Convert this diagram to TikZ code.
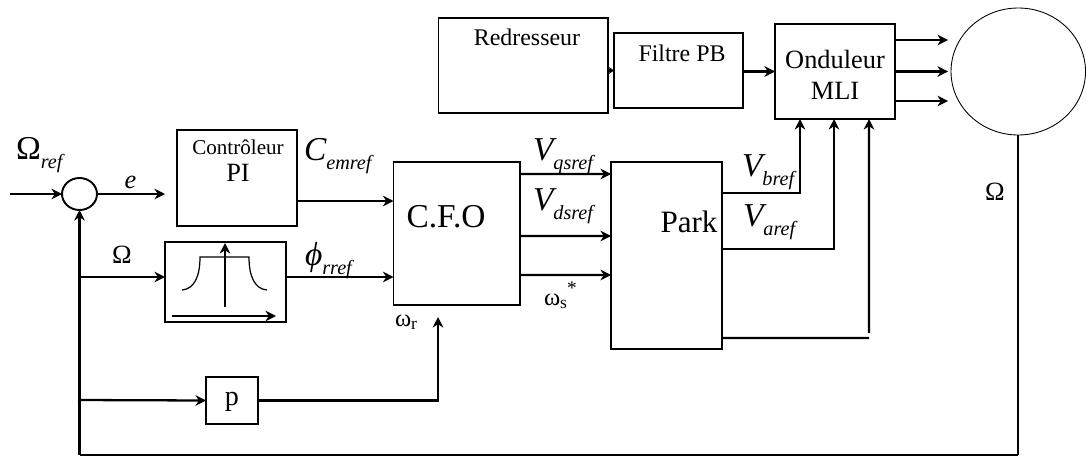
\documentclass[tikz,border=0pt]{standalone}
\usepackage{fontspec}
\setmainfont{Liberation Serif}
\usetikzlibrary{shapes.geometric,arrows.meta}
\newcommand{\fsz}[1]{\fontsize{#1}{#1}\selectfont}
\newcommand{\sublab}[2]{{\fsz{19}#1}\raisebox{-5.5pt}{\fsz{11.5}\itshape #2}}
\tikzset{
  blockbox/.style={draw,line width=1.1pt,outer sep=0pt,inner sep=0pt},
  sumcircle/.style={draw,ellipse,line width=1.1pt,outer sep=0pt,inner sep=0pt},
  sig/.style={-{Stealth[length=6pt,width=6pt]},line width=1.3pt},
  txt/.style={anchor=base,inner sep=0pt,outer sep=0pt},
}
\begin{document}
\begin{tikzpicture}
\useasboundingbox (0,0) rectangle (21.72,9.14);
% blocks
\node[blockbox,minimum width=3.39cm,minimum height=1.9cm] (redr) at (10.465,7.83) {};
\node[blockbox,minimum width=2.58cm,minimum height=1.5cm] (filt) at (13.57,7.73) {};
\node[blockbox,minimum width=2.4cm,minimum height=1.9cm] (ond) at (16.7,7.71) {};
\node[draw,ellipse,line width=0.5pt,outer sep=0pt,inner sep=0pt,minimum width=2.69cm,minimum height=2.54cm] (motor) at (20.365,7.71) {};
\node[blockbox,minimum width=2.53cm,minimum height=2.86cm] (cfo) at (9.135,4.47) {};
\node[blockbox,minimum width=2.22cm,minimum height=3.74cm] (park) at (13.33,4.03) {};
\node[blockbox,minimum width=2.4cm,minimum height=1.92cm] (ctrl) at (4.74,5.58) {};
\node[blockbox,minimum width=2.42cm,minimum height=1.6cm] (flux) at (4.51,3.5) {};
\node[blockbox,minimum width=1.04cm,minimum height=0.94cm] (pgain) at (4.64,1.13) {};
\node[sumcircle,minimum width=0.7cm,minimum height=0.64cm] (sum) at (1.59,5.26) {};
% free ends
\coordinate (inref) at (0.2,5.26);
\coordinate (eend) at (3.3,5.26);
\coordinate (fbr) at (motor.south |- 0,0.04);
\coordinate (fbl) at (sum.south |- 0,0.04);
\coordinate (brflux) at (sum.south |- 0,3.6);
\coordinate (brp) at (1.56,1.14);
\coordinate (wrin) at (8.76,2.8);
\coordinate (wrcorner) at (wrin |- pgain.east);
\coordinate (parkend) at (17.38,2.38);
\coordinate (ondin) at (17.38,2.48);
% top chain
\draw[-{Stealth[length=3pt,width=4pt]},line width=1.3pt] (redr.east |- filt.center) -- (filt.west);
\draw[sig] (filt.east |- ond.center) -- (ond.west);
\foreach \dy/\nm in {0.63/a,0/b,-0.59/c}{
  \coordinate (ph\nm) at ([xshift=1.06cm,yshift=\dy cm]ond.east);
  \draw[sig] ([yshift=\dy cm]ond.east) -- (ph\nm);
}
% speed loop
\draw[sig] (inref) -- (sum.west);
\draw[sig] (sum.east) -- (eend);
\draw[line width=0.9pt] (motor.south) -- (fbr);
\draw[line width=0.9pt] (fbr) -- (fbl);
\draw[sig] (fbl) -- (sum.south);
\draw[sig] (brflux) -- ([yshift=0.1cm]flux.west);
\draw[sig] (brp) -- (pgain.west);
\draw[sig] (pgain.east) -- (wrcorner) -- (wrin);
% into and out of the C.F.O
\draw[sig] ([yshift=-0.46cm]ctrl.east) -- ([yshift=0.65cm]cfo.west);
\draw[sig] ([yshift=0.1cm]flux.east) -- ([yshift=-0.87cm]cfo.west);
\draw[sig] ([yshift=1.19cm]cfo.east) -- ([yshift=1.63cm]park.west);
\draw[sig] ([yshift=-0.05cm]cfo.east) -- ([yshift=0.39cm]park.west);
\draw[sig] ([yshift=-0.83cm]cfo.east) -- ([yshift=-0.39cm]park.west);
% park to inverter
\draw[sig] ([yshift=1.25cm]park.east) -| ([xshift=-0.7cm]ond.south);
\draw[sig] ([yshift=0.13cm]park.east) -| ([xshift=-0.02cm]ond.south);
\draw[line width=1.2pt] ([yshift=-1.65cm]park.east) -- (parkend);
\draw[sig] (ondin) -- ([xshift=0.68cm]ond.south);
% limiter icon
\coordinate (fluxya) at (4.5,3);
\coordinate (fluxyb) at (4.5,4.28);
\coordinate (fluxxa) at (3.44,2.82);
\coordinate (fluxxb) at (5.52,2.82);
\draw[sig] (fluxya) -- (fluxyb);
\draw[sig] (fluxxa) -- (fluxxb);
\draw[line width=0.7pt] (3.64,3.34) .. controls (3.88,3.36) and (4,3.6) .. (4,4) -- (4.98,4) .. controls (4.98,3.6) and (5.1,3.36) .. (5.34,3.34);
% texts
\node[txt] (tredr) at (10.54,8.24) {\fsz{13.6}Redresseur};
\node[txt] (tfilt) at (13.64,7.92) {\fsz{13.6}Filtre PB};
\node[txt] (tond) at (16.7,7.78) {\fsz{15}Onduleur};
\node[txt] (tmli) at (16.7,7.16) {\fsz{15}MLI};
\node[txt] (tcfo) at (8.92,4.6) {\fsz{19}C.F.O};
\node[txt] (tpark) at (13.78,4.5) {\fsz{17.7}Park};
\node[txt] (tctrl) at (4.76,6.06) {\fsz{12}Contrôleur};
\node[txt] (tpi) at (4.76,5.52) {\fsz{15}PI};
\node[txt] (tp) at (4.64,1.04) {\fsz{16}p};
\node[txt,anchor=base west] (lref) at (0.32,5.96) {\sublab{Ω}{ref}};
\node[txt] (le) at (2.61,5.38) {\fsz{15}\itshape e};
\node[txt] (lom) at (2.44,3.88) {\fsz{15}Ω};
\node[txt] (lomr) at (19.9,5.14) {\fsz{15}Ω};
\node[txt,anchor=base west] (lcem) at (6.08,5.94) {\sublab{\itshape C}{emref}};
\node[txt,anchor=base west] (lphi) at (6.1,3.84) {\sublab{\itshape ϕ}{rref}};
\node[txt,anchor=base west] (lvq) at (10.66,5.94) {\sublab{\itshape V}{qsref}};
\node[txt,anchor=base west] (lvd) at (10.66,4.94) {\sublab{\itshape V}{dsref}};
\node[txt,anchor=base west] (lvb) at (14.84,5.62) {\sublab{\itshape V}{bref}};
\node[txt,anchor=base west] (lva) at (14.86,4.62) {\sublab{\itshape V}{aref}};
\node[txt,anchor=base west] (lws) at (10.88,3.04) {\fsz{14}ω\raisebox{-2pt}{\fsz{10}s}\raisebox{6pt}{\fsz{11}*}};
\node[txt,anchor=base west] (lwr) at (7.9,2.62) {\fsz{14}ω\raisebox{-2pt}{\fsz{10}r}};
\end{tikzpicture}
\end{document}
